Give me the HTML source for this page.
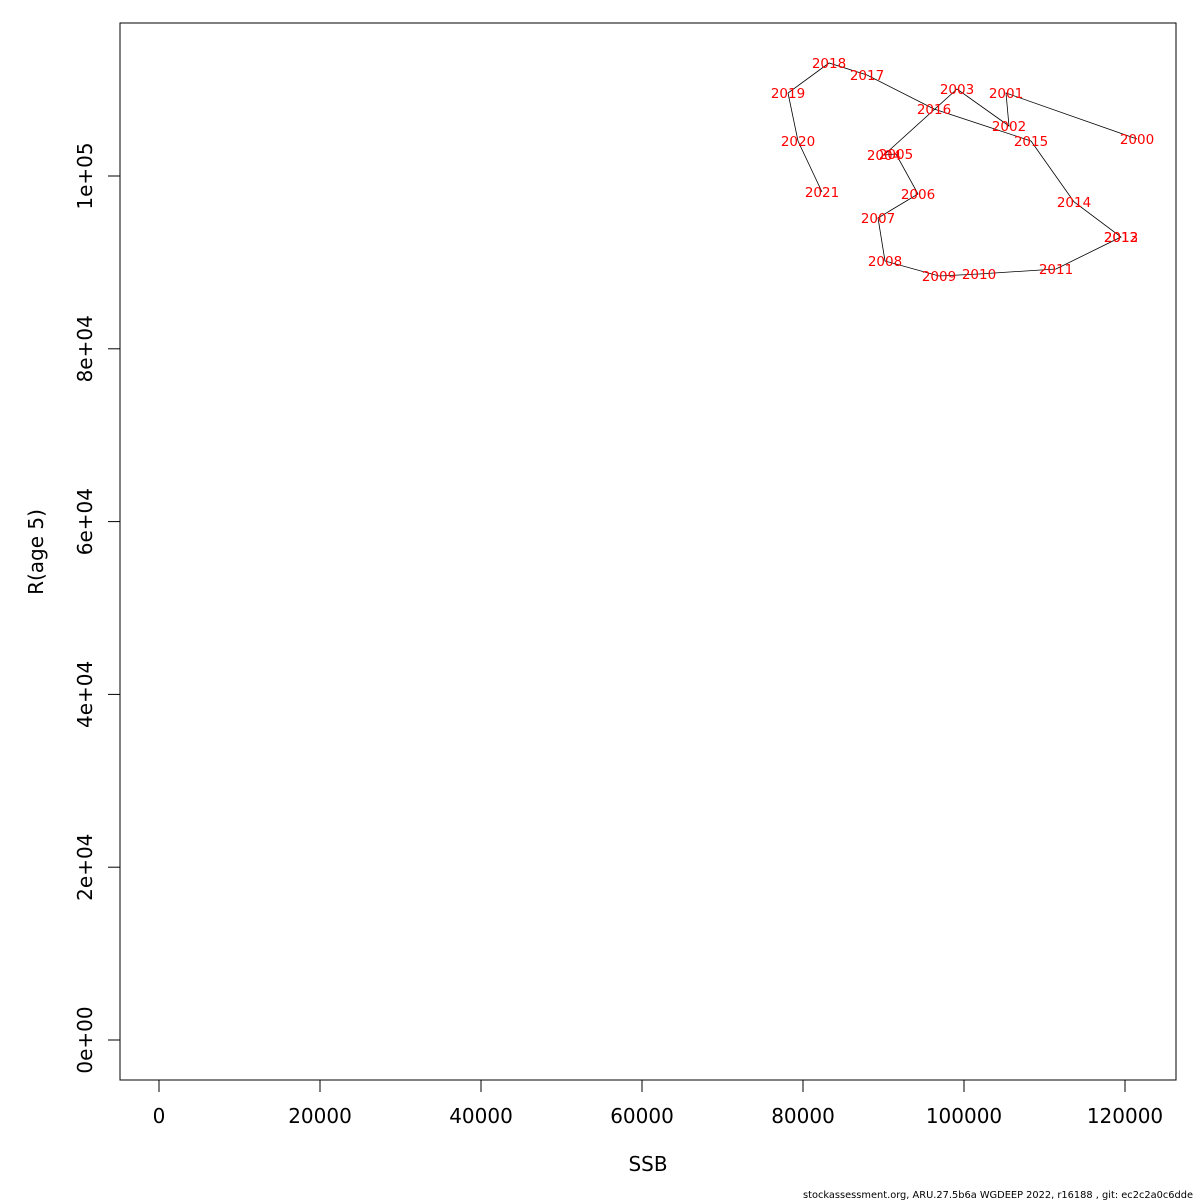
<!DOCTYPE html>
<html><head><meta charset="utf-8"><style>
html,body{margin:0;padding:0;background:#fff}
svg{display:block;font-family:"DejaVu Sans","Liberation Sans",sans-serif}
</style></head><body>
<svg id="chart" width="1200" height="1200" viewBox="0 0 1200 1200">
<rect x="120" y="23" width="1056" height="1057" fill="none" stroke="#000" stroke-width="1"/>
<g id="xaxis"></g>
<g id="yaxis"></g>
<g id="series"></g>
<text x="648" y="1171" font-size="20" text-anchor="middle">SSB</text>
<text transform="translate(43,552) rotate(-90)" font-size="20" text-anchor="middle">R(age 5)</text>
<text x="1193" y="1198" font-size="10" text-anchor="end" textLength="390" lengthAdjust="spacingAndGlyphs">stockassessment.org, ARU.27.5b6a  WGDEEP  2022, r16188 , git: ec2c2a0c6dde</text>
</svg>
<script>
const years = ["2000","2001","2002","2003","2004","2005","2006","2007","2008","2009","2010","2011","2012","2013","2014","2015","2016","2017","2018","2019","2020","2021"];
const ssb = [121491,105217,105590,99130,90062,91553,94286,89317,90186,96894,101863,111429,119503,119503,113665,108323,96273,87950,83230,78137,79379,82360];
const rec = [104282,109606,105787,110069,102431,102546,97917,95139,90162,88426,88657,89236,92940,92940,97014,104051,107755,111690,113079,109606,104051,98148];
const xTicks = [0,20000,40000,60000,80000,100000,120000];
const xTickLabels = ["0","20000","40000","60000","80000","100000","120000"];
const yTicks = [0,20000,40000,60000,80000,100000];
const yTickLabels = ["0e+00","2e+04","4e+04","6e+04","8e+04","1e+05"];

const NS = "http://www.w3.org/2000/svg";
const sx = v => 159 + v * (1125 - 159) / 120000;
const sy = v => 1040 - v * (1040 - 176) / 100000;
function mk(tag, attrs, parent){const e=document.createElementNS(NS,tag);for(const k in attrs)e.setAttribute(k,attrs[k]);parent.appendChild(e);return e;}

const xa=document.getElementById('xaxis');
mk('line',{x1:sx(xTicks[0]),x2:sx(xTicks[xTicks.length-1]),y1:1080,y2:1080,stroke:'#000'},xa);
xTicks.forEach((t,i)=>{
  const l=mk('line',{x1:sx(t),x2:sx(t),y1:1080,y2:1092,stroke:'#000'},xa);
  
  
  const tx=mk('text',{x:sx(t),y:1123,'font-size':20,'text-anchor':'middle'},xa);
  tx.textContent=xTickLabels[i];
  
  
});
const ya=document.getElementById('yaxis');
mk('line',{x1:120,x2:120,y1:sy(yTicks[0]),y2:sy(yTicks[yTicks.length-1]),stroke:'#000'},ya);
yTicks.forEach((t,i)=>{
  const l=mk('line',{x1:108,x2:120,y1:sy(t),y2:sy(t),stroke:'#000'},ya);
  
  
  const tx=mk('text',{transform:`translate(92,${sy(t)}) rotate(-90)`,'font-size':20,'text-anchor':'middle'},ya);
  tx.textContent=yTickLabels[i];
  
  
});
const sg=document.getElementById('series');
const pts=ssb.map((v,i)=>sx(v).toFixed(1)+','+sy(rec[i]).toFixed(1)).join(' ');
const pl=mk('polyline',{points:pts,fill:'none',stroke:'#000','stroke-width':0.8},sg);


years.forEach((y,i)=>{
  const tx=mk('text',{x:sx(ssb[i]),y:sy(rec[i])+5,'font-size':13.5,'text-anchor':'middle',fill:'#ff0000'},sg);
  tx.textContent=y;
  
  
});
</script>
</body></html>
